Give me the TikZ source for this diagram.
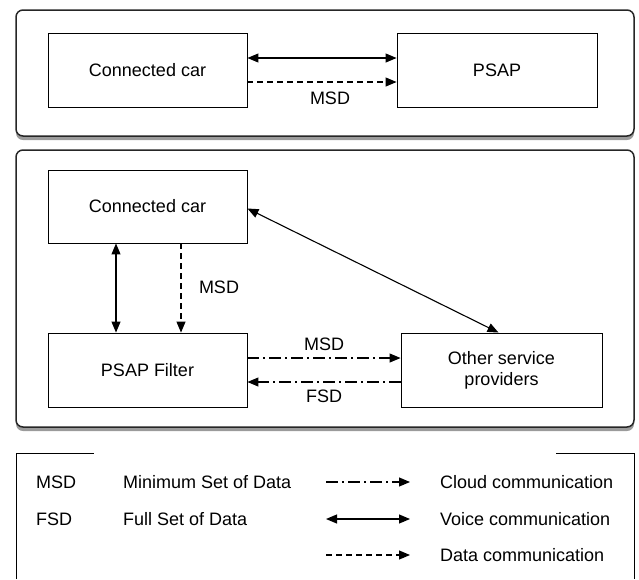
\documentclass[tikz,border=0pt]{standalone}
\usepackage{fontspec}
\setmainfont{Liberation Sans}
\usetikzlibrary{arrows.meta,shadows}
\tikzset{
  panel/.style={draw=black!85, line width=1.5pt, rounded corners=7pt, fill=white,
    drop shadow={shadow xshift=0pt, shadow yshift=-4pt, opacity=0.6, fill=black!65}},
  box/.style={draw=black, line width=0.9pt, fill=white, inner sep=0pt},
  lbl/.style={font=\fontsize{18}{21}\selectfont, inner sep=0pt},
  tip/.style={-{Triangle[length=11pt,width=9pt]}},
  dtip/.style={{Triangle[length=11pt,width=9pt]}-{Triangle[length=11pt,width=9pt]}},
  voice/.style={dtip, line width=1.1pt},
  datac/.style={tip, line width=1.1pt, dash pattern=on 6pt off 4pt},
  cloud/.style={tip, line width=1.1pt, dash pattern=on 12pt off 4pt on 2pt off 4pt},
}
\begin{document}
\begin{tikzpicture}[x=1pt,y=-1pt]
\useasboundingbox (0,0) rectangle (639,579);
% panels
\path[panel] (16,10) rectangle (634,136);
\path[panel] (16,150) rectangle (634,427);
% top panel
\node[box, minimum width=199pt, minimum height=74pt] (car1) at (147.5,70) {};
\node[lbl] at (car1) {Connected car};
\node[box, minimum width=200pt, minimum height=74pt] (psap) at (497,70) {};
\node[lbl] at (psap) {PSAP};
\draw[voice] ([yshift=12pt]car1.east) -- ([yshift=12pt]psap.west);
\draw[datac] ([yshift=-12pt]car1.east) -- ([yshift=-12pt]psap.west);
\node[lbl] (msd1) at (330,98) {MSD};
% middle panel
\node[box, minimum width=199pt, minimum height=73pt] (car2) at (147.5,206.5) {};
\node[lbl] at (car2) {Connected car};
\node[box, minimum width=199pt, minimum height=74pt] (filt) at (147.5,370) {};
\node[lbl] at (filt) {PSAP Filter};
\node[box, minimum width=201pt, minimum height=74pt] (other) at (501.5,370) {};
\node[lbl, align=center] at (other) {Other service\\providers};
\coordinate (va) at (116,243);
\draw[voice] (car2.south -| va) -- (filt.north -| va);
\coordinate (da) at (181,243);
\draw[datac] (car2.south -| da) -- (filt.north -| da);
\node[lbl] (msd2) at (219,287) {MSD};
\draw[voice] ([yshift=-2pt]car2.east) -- ([xshift=-3pt]other.north);
\draw[cloud] ([yshift=12pt]filt.east) -- ([yshift=12pt]other.west);
\node[lbl] (msd3) at (324,344) {MSD};
\draw[cloud] ([yshift=-12pt]other.west) -- ([yshift=-12pt]filt.east);
\node[lbl] (fsd3) at (324,396) {FSD};
% legend
\draw[line width=1pt] (16,579) -- (16,453) -- (94,453);
\draw[line width=1pt] (556,453) -- (634,453) -- (634,579);
\node[lbl, anchor=west] (lmsd) at (36,482) {MSD};
\node[lbl, anchor=west] (lmsdt) at (123,482) {Minimum Set of Data};
\node[lbl, anchor=west] (lfsd) at (36,519) {FSD};
\node[lbl, anchor=west] (lfsdt) at (123,519) {Full Set of Data};
\node[lbl, anchor=west] (lcloud) at (440,482) {Cloud communication};
\node[lbl, anchor=west] (lvoice) at (440,519) {Voice communication};
\node[lbl, anchor=west] (ldata) at (440,555) {Data communication};
\coordinate (c1) at (326,482); \coordinate (c2) at (410,482);
\coordinate (v1) at (326,519); \coordinate (v2) at (410,519);
\coordinate (d1) at (326,555); \coordinate (d2) at (410,555);
\draw[cloud] (c1) -- (c2);
\draw[voice] (v1) -- (v2);
\draw[datac] (d1) -- (d2);
\end{tikzpicture}
\end{document}
